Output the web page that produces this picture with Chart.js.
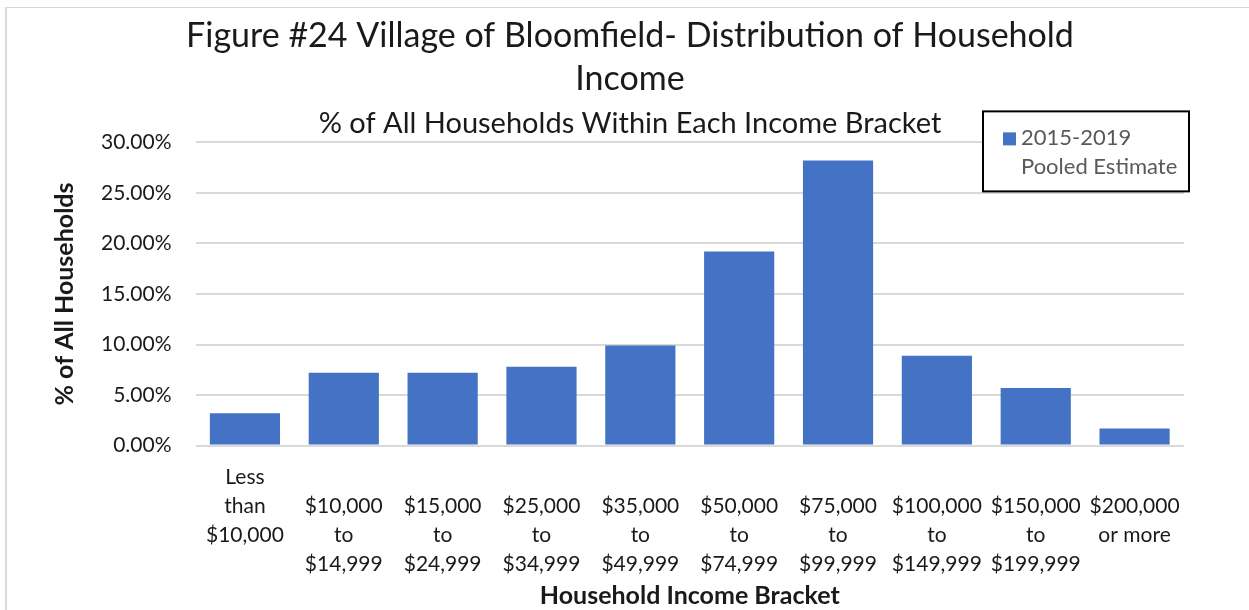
<!DOCTYPE html>
<html>
<head>
<meta charset="utf-8">
<script src="https://cdn.jsdelivr.net/npm/chart.js@4/dist/chart.umd.min.js"></script>
<style>
  html, body { margin: 0; padding: 0; background: #fff; overflow: hidden; }
  #frame { position: absolute; left: 5px; top: 7px; width: 1300px; height: 700px;
           border-left: 2px solid #d9d9d9; border-top: 1px solid #d9d9d9; }
  #wrap { position: absolute; left: 0; top: 0; width: 1249px; height: 610px; }
</style>
</head>
<body>
<div id="frame"></div>
<div id="wrap"><canvas id="chart" width="1249" height="610"></canvas></div>
<script>
const categories = [
  ["Less", "than", "$10,000"],
  ["$10,000", "to", "$14,999"],
  ["$15,000", "to", "$24,999"],
  ["$25,000", "to", "$34,999"],
  ["$35,000", "to", "$49,999"],
  ["$50,000", "to", "$74,999"],
  ["$75,000", "to", "$99,999"],
  ["$100,000", "to", "$149,999"],
  ["$150,000", "to", "$199,999"],
  ["$200,000", "or more"]
];
const pooledEstimate = [3.2, 7.2, 7.2, 7.8, 9.9, 19.2, 28.2, 8.9, 5.7, 1.7];
const seriesName = ["2015-2019", "Pooled Estimate"];
const yTicks = [0, 5, 10, 15, 20, 25, 30];

const FONT = "Lato, 'Open Sans', sans-serif";
const TEXT = "#1a1a1a";

// Excel puts the first label one line higher than the rest
const labels = categories.map((c, i) => (i === 0 ? c : [""].concat(c)));

// legend box drawn in the top right of the plot
const boxLegend = {
  id: "boxLegend",
  afterDraw(chart) {
    const ctx = chart.ctx;
    const area = chart.chartArea;
    const x = area.right - 201, y = area.top - 31, w = 206, h = 80;
    ctx.save();
    ctx.fillStyle = "#fff";
    ctx.fillRect(x, y, w, h);
    ctx.strokeStyle = "#000";
    ctx.lineWidth = 2;
    ctx.strokeRect(x, y, w, h);
    ctx.fillStyle = chart.data.datasets[0].backgroundColor;
    ctx.fillRect(x + 20, y + 21, 13, 13);
    ctx.fillStyle = "#595959";
    ctx.font = "22px " + FONT;
    ctx.textBaseline = "middle";
    ctx.textAlign = "left";
    ctx.fillText(seriesName[0], x + 38, y + 27);
    ctx.fillText(seriesName[1], x + 38, y + 56);
    ctx.restore();
  }
};

new Chart(document.getElementById("chart"), {
  type: "bar",
  data: {
    labels: labels,
    datasets: [{
      label: seriesName.join(" "),
      data: pooledEstimate,
      backgroundColor: "#4472C4",
      borderWidth: 0,
      categoryPercentage: 1,
      barPercentage: 0.71
    }]
  },
  options: {
    responsive: false,
    animation: false,
    layout: { padding: { left: 76, right: 65, top: 15, bottom: 0 } },
    plugins: {
      legend: { display: false },
      tooltip: { enabled: false },
      title: {
        display: true,
        text: ["Figure #24 Village of Bloomfield- Distribution of Household", "Income"],
        color: TEXT,
        font: { family: FONT, size: 34, weight: "normal", lineHeight: 1.265 },
        padding: { top: 0, bottom: 6 }
      },
      subtitle: {
        display: true,
        text: "% of All Households Within Each Income Bracket",
        color: TEXT,
        font: { family: FONT, size: 29, weight: "normal", lineHeight: 1.15 },
        padding: { top: 0, bottom: 2 }
      }
    },
    scales: {
      x: {
        grid: { display: false, drawTicks: false },
        border: { display: false },
        ticks: {
          color: TEXT,
          font: { family: FONT, size: 21, lineHeight: 1.38 },
          padding: 17,
          maxRotation: 0,
          autoSkip: false
        },
        title: {
          display: true,
          text: "Household Income Bracket",
          color: TEXT,
          font: { family: FONT, size: 25, weight: "bold", lineHeight: 1.1 },
          padding: { top: -13, bottom: 0 }
        }
      },
      y: {
        min: 0,
        max: 30,
        afterBuildTicks(axis) { axis.ticks = yTicks.map(v => ({ value: v })); },
        grid: { color: "#d9d9d9", lineWidth: 2, drawTicks: false },
        border: { display: false },
        ticks: {
          color: TEXT,
          font: { family: FONT, size: 21 },
          padding: 24,
          callback: v => v.toFixed(2) + "%"
        },
        title: {
          display: true,
          text: "% of All Households",
          color: TEXT,
          font: { family: FONT, size: 25, weight: "bold", lineHeight: 1.2 },
          padding: { top: -26, bottom: -3 }
        }
      }
    }
  },
  plugins: [boxLegend]
});
</script>
</body>
</html>
